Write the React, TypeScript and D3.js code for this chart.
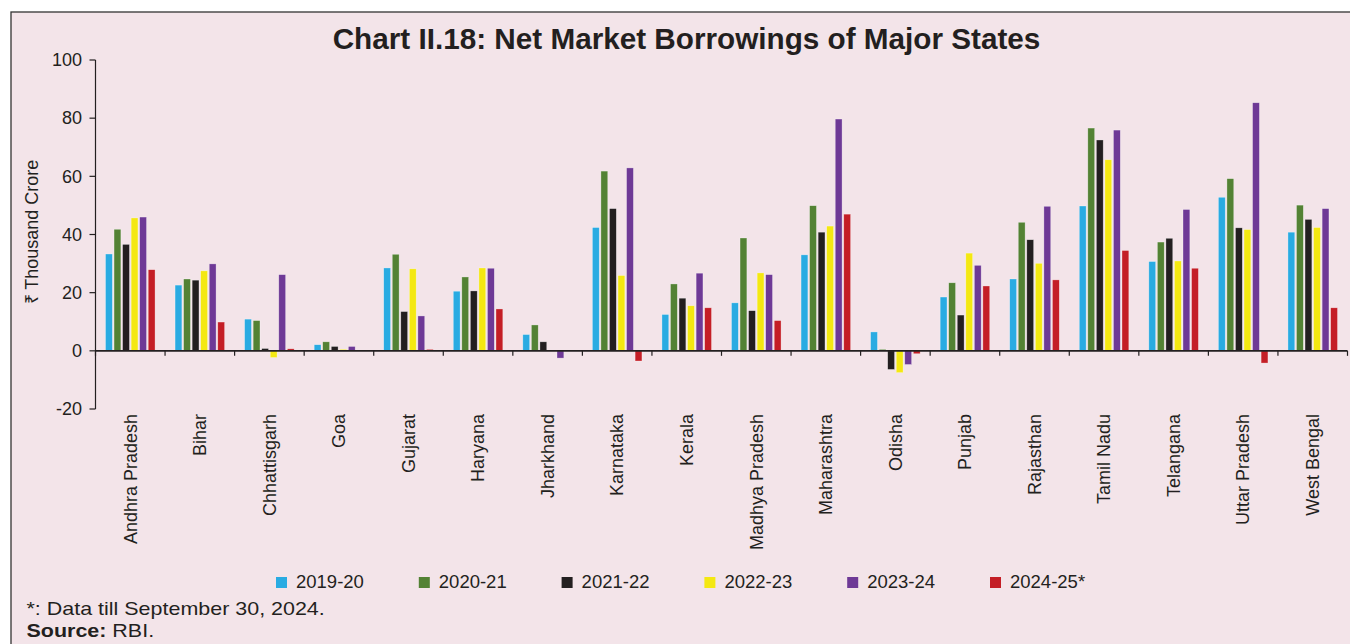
import React from "react";
import * as d3 from "d3";

const states = [
  "Andhra Pradesh", "Bihar", "Chhattisgarh", "Goa", "Gujarat", "Haryana",
  "Jharkhand", "Karnataka", "Kerala", "Madhya Pradesh", "Maharashtra", "Odisha",
  "Punjab", "Rajasthan", "Tamil Nadu", "Telangana", "Uttar Pradesh", "West Bengal",
];
const years = ["2019-20", "2020-21", "2021-22", "2022-23", "2023-24", "2024-25*"];
const v2019 = [33.3, 22.6, 10.9, 2.1, 28.5, 20.5, 5.6, 42.4, 12.5, 16.5, 33.0, 6.5, 18.5, 24.7, 49.8, 30.7, 52.8, 40.8];
const v2020 = [41.8, 24.7, 10.4, 3.1, 33.2, 25.4, 8.9, 61.8, 23.0, 38.8, 49.9, 0.5, 23.4, 44.2, 76.6, 37.4, 59.2, 50.1];
const v2021 = [36.6, 24.3, 0.8, 1.5, 13.5, 20.6, 3.1, 48.9, 18.1, 13.8, 40.8, -6.4, 12.3, 38.2, 72.5, 38.7, 42.3, 45.2];
const v2022 = [45.7, 27.5, -2.3, 0.5, 28.2, 28.5, 0, 25.9, 15.5, 26.8, 42.9, -7.5, 33.6, 30.1, 65.7, 30.9, 41.7, 42.4];
const v2023 = [46.0, 29.9, 26.2, 1.5, 12.0, 28.4, -2.5, 62.9, 26.7, 26.2, 79.7, -4.7, 29.4, 49.7, 75.9, 48.6, 85.3, 48.9];
const v2024 = [27.9, 9.9, 0.7, 0, 0.5, 14.4, 0, -3.5, 14.8, 10.4, 47.0, -1.0, 22.3, 24.4, 34.5, 28.4, -4.2, 14.8];
const series = [v2019, v2020, v2021, v2022, v2023, v2024];
const colors = ["#29ABE2", "#538234", "#231F20", "#F4E812", "#6E3996", "#C41E26"];
const yTicks = [-20, 0, 20, 40, 60, 80, 100];

const W = 1350, H = 644;
const FONT = "'Liberation Sans', Arial, Helvetica, sans-serif";

export default function App() {
  const x0 = d3.scaleBand<string>().domain(states).range([95.5, 1347.5]).padding(0);
  const x1 = d3.scaleBand<string>().domain(years).range([10, x0.bandwidth() - 10]).paddingInner(0.2);
  const y = d3.scaleLinear().domain([-20, 100]).range([409, 60]);
  const bounds = states.map((s) => x0(s) as number).concat([1347.5]);

  return (
    <svg width={W} height={H} style={{ position: "absolute", left: 0, top: 0, fontFamily: FONT }}>
      <rect x={0} y={0} width={W} height={H} fill="#ffffff" />
      <rect x={11} y={12} width={W + 50} height={H + 50} fill="#F3E4E9" stroke="#333" strokeWidth={1.3} />
      <text x={686.5} y={49} textAnchor="middle" fontSize={29.7} fontWeight="bold" fill="#231F20">
        Chart II.18: Net Market Borrowings of Major States
      </text>

      {/* bars */}
      {states.map((s, i) => (
        <g key={s} transform={`translate(${x0(s)},0)`}>
          {years.map((yr, j) => {
            const v = series[j][i];
            if (v === 0) return null;
            return (
              <rect
                key={yr}
                x={x1(yr)}
                y={y(Math.max(0, v))}
                width={x1.bandwidth()}
                height={Math.abs(y(v) - y(0))}
                fill={colors[j]}
                stroke="#ffffff"
                strokeOpacity={0.5}
                strokeWidth={0.6}
              />
            );
          })}
        </g>
      ))}

      {/* y axis */}
      <line x1={95.5} x2={95.5} y1={y(100)} y2={y(-20)} stroke="#231F20" strokeWidth={1.2} />
      {yTicks.map((t) => (
        <g key={t}>
          <line x1={89.5} x2={95.5} y1={y(t)} y2={y(t)} stroke="#231F20" strokeWidth={1.2} />
          <text x={82} y={y(t)} dy="0.35em" textAnchor="end" fontSize={18} fill="#231F20">
            {t}
          </text>
        </g>
      ))}
      <text
        transform={`translate(32,232) rotate(-90)`}
        textAnchor="middle"
        dy="0.35em"
        fontSize={18}
        fill="#231F20"
      >
        ₹ Thousand Crore
      </text>

      {/* x axis */}
      <line x1={95.5} x2={1347.5} y1={y(0)} y2={y(0)} stroke="#231F20" strokeWidth={1.6} />
      {bounds.map((b, i) => (
        <line key={i} x1={b} x2={b} y1={y(0)} y2={y(0) + 5} stroke="#231F20" strokeWidth={1.2} />
      ))}
      {states.map((s) => (
        <text
          key={s}
          transform={`translate(${(x0(s) as number) + x0.bandwidth() / 2},414) rotate(-90)`}
          textAnchor="end"
          dy="0.35em"
          fontSize={18}
          fill="#231F20"
        >
          {s}
        </text>
      ))}

      {/* legend */}
      {years.map((yr, j) => (
        <g key={yr} transform={`translate(${276 + j * 142.8},577)`}>
          <rect x={0} y={0} width={11} height={11} fill={colors[j]} />
          <text x={20} y={10.7} fontSize={18.5} fill="#231F20">
            {yr}
          </text>
        </g>
      ))}

      {/* notes */}
      <g transform="translate(26.5,0) scale(1.13,1)">
        <text x={0} y={615} fontSize={19} fill="#231F20">
          *: Data till September 30, 2024.
        </text>
        <text x={0} y={637} fontSize={19} fill="#231F20">
          <tspan fontWeight="bold">Source:</tspan> RBI.
        </text>
      </g>
    </svg>
  );
}
